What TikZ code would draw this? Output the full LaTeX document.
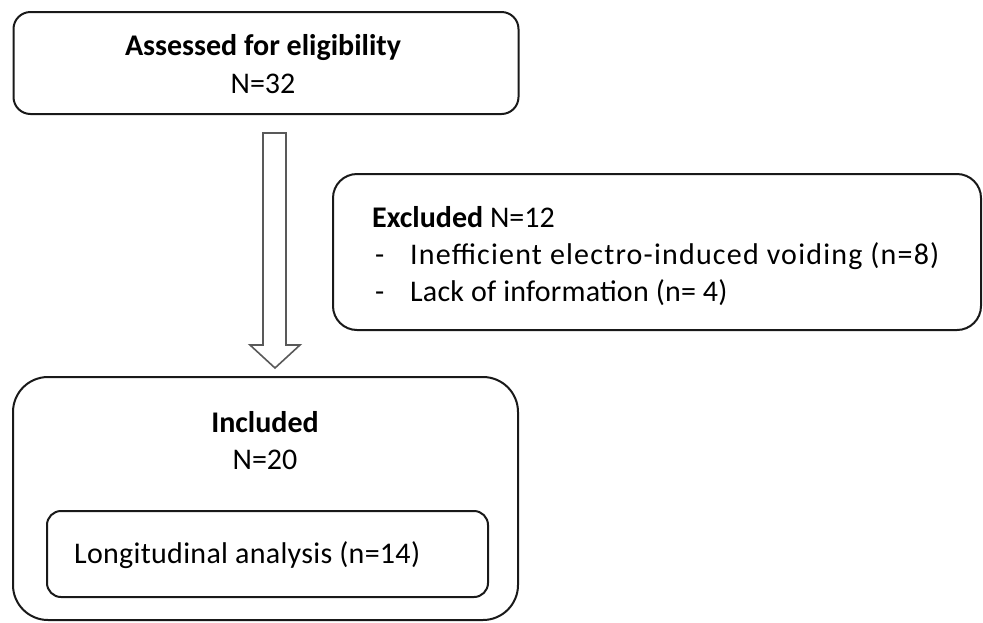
\documentclass[tikz,border=0pt]{standalone}
\usepackage{fontspec}
\setmainfont{Carlito}
\usetikzlibrary{calc}
\begin{document}
\begin{tikzpicture}[x=1pt,y=-1pt,
  box/.style={draw=black!90, line width=2pt, rectangle, inner sep=0pt},
  txt/.style={inner sep=0pt, font=\fontsize{30}{36}\selectfont},
  blockarrow/.style={draw=black!65, line width=1.6pt, fill=white}]
\useasboundingbox (0,0) rectangle (983,622);
% boxes
\node[box, rounded corners=17pt, minimum width=505pt, minimum height=102pt] (assess) at (266,63) {};
\node[box, rounded corners=24pt, minimum width=648pt, minimum height=156pt] (excl) at (657,252) {};
\node[box, rounded corners=35pt, minimum width=505pt, minimum height=243pt] (incl) at (265.5,498.5) {};
\node[box, rounded corners=14pt, minimum width=441pt, minimum height=86pt] (longi) at (267.5,554) {};
% texts
\node[txt, anchor=base] (t1) at (263,55) {\textbf{Assessed for eligibility}};
\node[txt, anchor=base] (t2) at (263,93) {N=32};
\node[txt, anchor=base west] (e1) at (372,227) {\textbf{Excluded} N=12};
\node[txt, anchor=base west] (d1) at (375,264) {-};
\node[txt, anchor=base west] (e2) at (410,264) {\addfontfeatures{LetterSpace=4}Inefficient electro-induced voiding (n=8)};
\node[txt, anchor=base west] (d2) at (375,301) {-};
\node[txt, anchor=base west] (e3) at (410,301) {\addfontfeatures{LetterSpace=0.7}Lack of information (n= 4)};
\node[txt, anchor=base] (i1) at (265,432) {\textbf{Included}};
\node[txt, anchor=base] (i2) at (265,469) {N=20};
\node[txt, anchor=base west] (l1) at (74,563) {\addfontfeatures{LetterSpace=1}Longitudinal analysis (n=14)};
% block arrow from assess to incl
\coordinate (atop) at (274.5,133);
\coordinate (atip) at (275,368);
\draw[blockarrow] ($(atop)+(-11.5,0)$) -- ($(atop)+(11.5,0)$) -- (286,345) -- (300,345) -- (atip) -- (250,345) -- (263,345) -- cycle;
\end{tikzpicture}
\end{document}
